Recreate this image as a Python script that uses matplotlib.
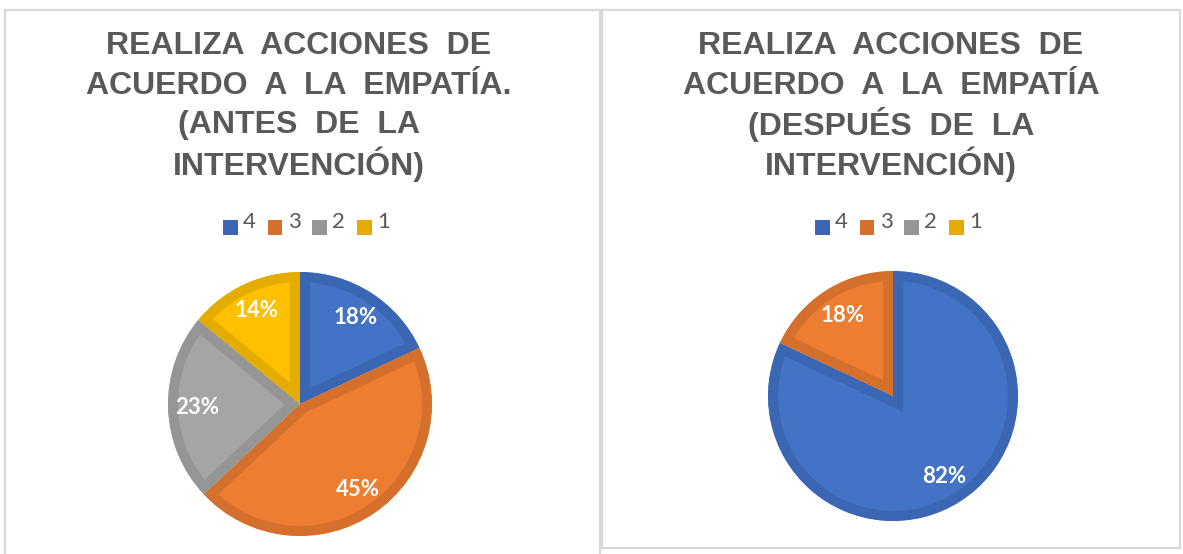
import matplotlib.pyplot as plt
from matplotlib.patches import Rectangle

# ---------------- DATA ----------------
categories = ["4", "3", "2", "1"]
antes = [18, 45, 23, 14]
despues = [82, 18, 0, 0]

title_antes = ["REALIZA  ACCIONES  DE", "ACUERDO  A  LA  EMPATÍA.",
               "(ANTES  DE  LA", "INTERVENCIÓN)"]
title_despues = ["REALIZA  ACCIONES  DE", "ACUERDO  A  LA  EMPATÍA",
                 "(DESPUÉS  DE  LA", "INTERVENCIÓN)"]

# ---------------- STYLE ----------------
fill_colors = ["#4472C4", "#ED7D31", "#A5A5A5", "#FFC000"]
edge_colors = ["#3B66B3", "#D4702C", "#959595", "#E5AC00"]
TITLE_COLOR = "#595959"
W, H = 1183, 554

fig = plt.figure(figsize=(W / 100, H / 100), dpi=100)
fig.patch.set_facecolor("white")


def fx(px):
    return px / W


def fy(py):
    return 1 - py / H


# panel borders
fig.add_artist(Rectangle((fx(4.5), fy(565)), fx(600 - 4.5), (565 - 9.5) / H,
                         transform=fig.transFigure, fill=False,
                         edgecolor="#d9d9d9", linewidth=1.6))
fig.add_artist(Rectangle((fx(602), fy(547.5)), fx(1179.5 - 602), (547.5 - 9.5) / H,
                         transform=fig.transFigure, fill=False,
                         edgecolor="#d9d9d9", linewidth=1.6))


def draw_pie(box, values, pctdist, title, title_x, legend_x):
    ax = fig.add_axes(box)
    idx = [i for i, v in enumerate(values) if v > 0]
    vals = [values[i] for i in idx]
    wedges, texts, autotexts = ax.pie(
        vals, colors=[fill_colors[i] for i in idx], startangle=90,
        counterclock=False, autopct="%.0f%%", pctdistance=pctdist,
        wedgeprops=dict(linewidth=14.5),
        textprops=dict(color="white", fontsize=16, fontweight="bold",
                       family="Lato"))
    for w, i in zip(wedges, idx):
        w.set_edgecolor(edge_colors[i])
        w.set_clip_on(True)
        w.set_clip_path(w)
    ax.set_xlim(-1, 1)
    ax.set_ylim(-1, 1)
    ax.set_aspect("equal")
    ax.axis("off")

    # title, one line at a time
    for k, line in enumerate(title):
        fig.text(fx(title_x), fy(46 + k * 39.5), line, ha="center", va="center",
                 fontsize=23, fontweight="bold", color=TITLE_COLOR,
                 family="Liberation Sans")

    # legend: small squares with raised labels
    for i, cat in enumerate(categories):
        x0 = legend_x + i * 44.7
        fig.add_artist(Rectangle((fx(x0), fy(235)), fx(14.5), 14.5 / H,
                                 transform=fig.transFigure,
                                 facecolor=edge_colors[i], edgecolor="none"))
        fig.text(fx(x0 + 20), fy(227.5), cat, ha="left", va="baseline",
                 fontsize=16, color=TITLE_COLOR, family="Lato")
    return ax


draw_pie([fx(168), fy(536), fx(264), 264 / H], antes, 0.78, title_antes, 299, 223)
draw_pie([fx(768), fy(521), fx(250), 250 / H], despues, 0.76, title_despues, 891, 815)

fig.savefig("out.png", dpi=100, facecolor="white")
